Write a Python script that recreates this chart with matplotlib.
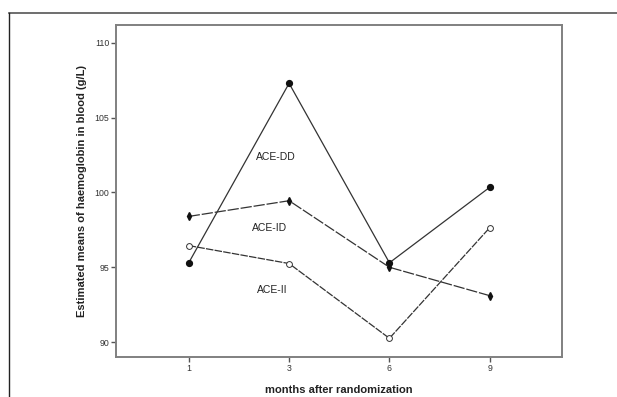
import matplotlib
matplotlib.use('Agg')
import matplotlib.pyplot as plt
from matplotlib.lines import Line2D

plt.rcParams['font.family'] = ['Liberation Sans', 'DejaVu Sans']

months = ['1', '3', '6', '9']
ace_dd = [95.3, 107.3, 95.3, 100.35]
ace_id = [98.4, 99.45, 95.0, 93.1]
ace_ii = [96.45, 95.25, 90.25, 97.65]
group_names = ['ACE-DD', 'ACE-ID', 'ACE-II']
label_spots = [(0.87, 102.4), (0.81, 97.6), (0.83, 93.5)]

fig = plt.figure(figsize=(6.17, 3.97), dpi=100)

# outer frame (top and left edges only)
fig.add_artist(Line2D([9 / 617, 1.0], [1 - 12.5 / 397, 1 - 12.5 / 397],
                      transform=fig.transFigure, color='#555555', lw=1.2))
fig.add_artist(Line2D([9 / 617, 9 / 617], [0.0, 1 - 12.5 / 397],
                      transform=fig.transFigure, color='#222222', lw=1.0))

ax = fig.add_axes([116 / 617, 40 / 397, 446 / 617, 332 / 397])
x = range(len(months))

ax.plot(x, ace_dd, color='#333333', lw=0.9, ls='-', marker='o', ms=4.2,
        markerfacecolor='#111111', markeredgecolor='#111111')
ax.plot(x, ace_id, color='#333333', lw=0.9, ls=(0, (9, 1.5)), marker='d', ms=3.6,
        markerfacecolor='#111111', markeredgecolor='#111111')
ax.plot(x, ace_ii, color='#333333', lw=0.9, ls=(0, (6, 1)), marker='o', ms=4.2,
        markerfacecolor='white', markeredgecolor='#333333', markeredgewidth=0.7)

for name, (lx, ly) in zip(group_names, label_spots):
    ax.text(lx, ly, name, fontsize=7.5, ha='center', va='center', color='#222222')

ax.set_xlim(-0.725, 3.72)
ax.set_ylim(89.0, 111.2)
ax.set_xticks(list(x))
ax.set_xticklabels(months)
ax.set_yticks([90, 95, 100, 105, 110])

for s in ax.spines.values():
    s.set_color('#808080')
    s.set_linewidth(1.4)
ax.tick_params(axis='both', direction='out', length=3.5, width=1, color='#555555',
               labelsize=6.3, labelcolor='#333333', pad=1.5)

ax.set_xlabel('months after randomization', fontsize=8, fontweight='bold',
              color='#222222', labelpad=9)
ax.set_ylabel('Estimated means of haemoglobin in blood (g/L)', fontsize=8,
              fontweight='bold', color='#222222', labelpad=5)

fig.savefig('out.png', dpi=100)
